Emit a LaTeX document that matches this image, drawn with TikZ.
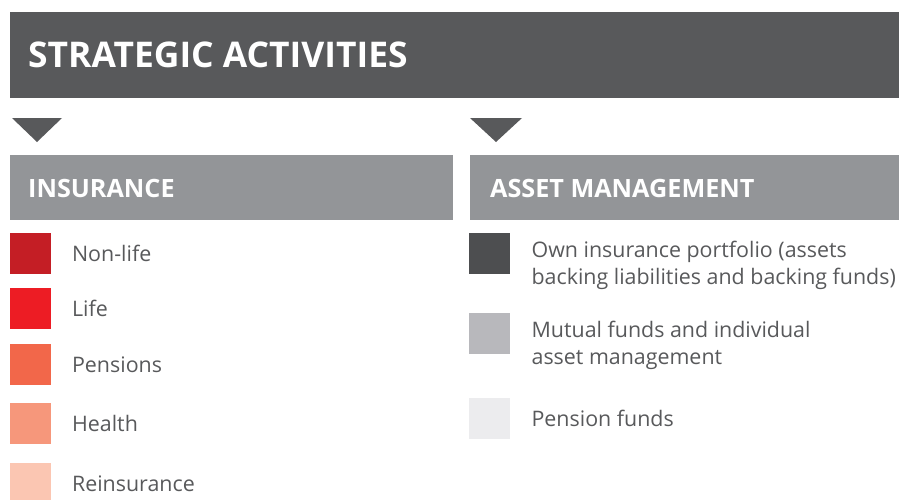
\documentclass[tikz,border=0pt]{standalone}
\usepackage{fontspec}
\setmainfont{Open Sans}
\usetikzlibrary{positioning}
\definecolor{bardark}{HTML}{58595B}
\definecolor{barmid}{HTML}{939598}
\definecolor{txtgray}{HTML}{58595B}
\definecolor{nonlife}{HTML}{C41E25}
\definecolor{life}{HTML}{ED1C24}
\definecolor{pensions}{HTML}{F2674A}
\definecolor{health}{HTML}{F6977B}
\definecolor{reins}{HTML}{FBC6B2}
\definecolor{ownport}{HTML}{4D4E50}
\definecolor{mutual}{HTML}{B8B8BC}
\definecolor{penfund}{HTML}{ECECEE}

\tikzset{
  bar/.style={anchor=north west, inner sep=0pt, minimum height=65pt},
  headtxt/.style={anchor=west, inner sep=0pt, text=white,
    font=\bfseries\fontsize{25.2}{25}\selectfont},
  swatch/.style={anchor=north west, inner sep=0pt, minimum size=41pt},
  itemtxt/.style={inner sep=0pt, text=txtgray, align=left,
    font=\fontsize{21.4}{27}\selectfont},
}

\begin{document}
\begin{tikzpicture}[x=1pt,y=-1pt]
    \useasboundingbox (0,0) rectangle (899,499);
    % title
    \node[bar, fill=bardark, minimum width=889pt, minimum height=86pt] (titlebar) at (10,12) {};
    \node[headtxt, font=\bfseries\fontsize{35.4}{35}\selectfont] (title) at (28,55) {STRATEGIC ACTIVITIES};
    \fill[bardark] (12,118) -- (62,118) -- (37,142) -- cycle;
    \fill[bardark] (470,118) -- (522,118) -- (496,142) -- cycle;

    % insurance
    \node[bar, fill=barmid, minimum width=443pt] (insbar) at (10,155) {};
    \node[headtxt] (institle) at (28,188) {INSURANCE};
    \node[swatch, fill=nonlife] (ins1) at (9.5,233) {};
    \node[swatch, fill=life] (ins2) at (9.5,288) {};
    \node[swatch, fill=pensions] (ins3) at (9.5,344) {};
    \node[swatch, fill=health] (ins4) at (9.5,403) {};
    \node[swatch, fill=reins] (ins5) at (9.5,463) {};
    \node[itemtxt, right=21pt of ins1] (ins1txt) {Non-life};
    \node[itemtxt, right=21pt of ins2] (ins2txt) {Life};
    \node[itemtxt, right=21pt of ins3] (ins3txt) {Pensions};
    \node[itemtxt, right=21pt of ins4] (ins4txt) {Health};
    \node[itemtxt, right=21pt of ins5] (ins5txt) {Reinsurance};

    % asset management
    \node[bar, fill=barmid, minimum width=429pt] (ambar) at (470,155) {};
    \node[headtxt] (amtitle) at (490,188) {ASSET MANAGEMENT};
    \node[swatch, fill=ownport] (am1) at (469,233) {};
    \node[swatch, fill=mutual] (am2) at (469,313) {};
    \node[swatch, fill=penfund] (am3) at (469,398) {};
    \node[itemtxt, below right=7.5pt and 21pt of am1.north east, anchor=north west] (am1txt)
        {Own insurance portfolio (assets\\backing liabilities and backing funds)};
    \node[itemtxt, below right=7.5pt and 21pt of am2.north east, anchor=north west] (am2txt)
        {Mutual funds and individual\\asset management};
    \node[itemtxt, right=21pt of am3] (am3txt) {Pension funds};
\end{tikzpicture}
\end{document}
